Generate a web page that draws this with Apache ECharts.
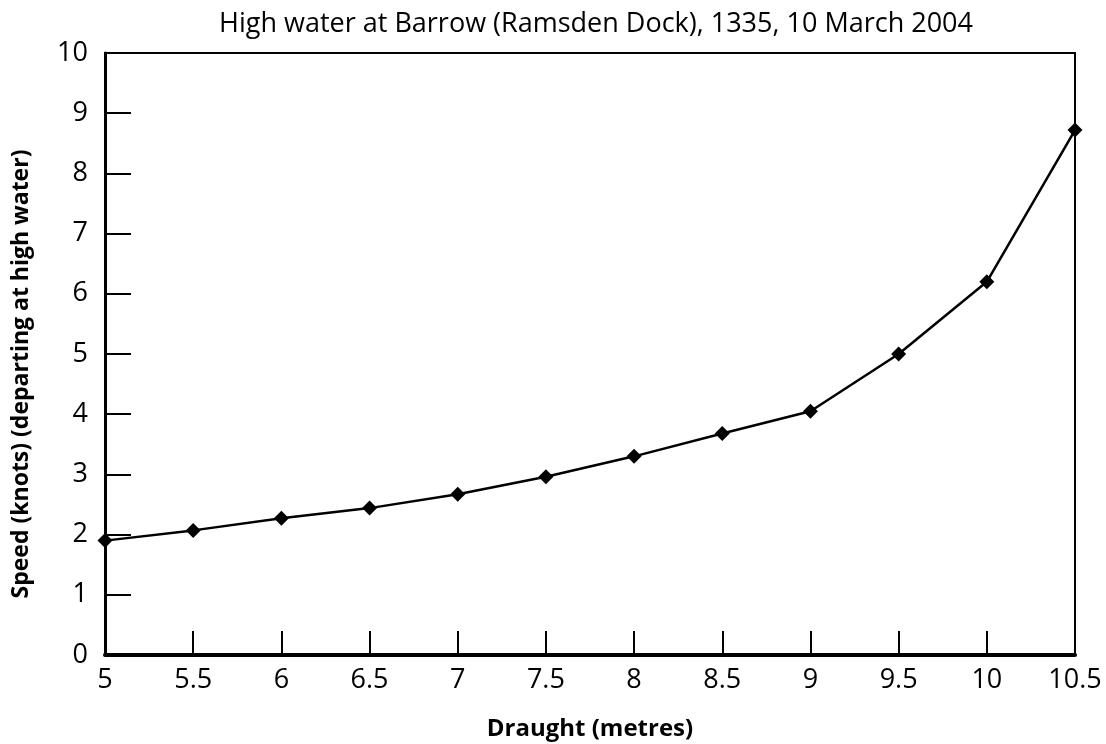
<!DOCTYPE html>
<html><head><meta charset="utf-8">
<script src="https://cdn.jsdelivr.net/npm/echarts@6/dist/echarts.min.js"></script>
<style>html,body{margin:0;padding:0;background:#fff}#c{width:1106px;height:744px}</style>
</head><body><div id="c"></div>
<script>
const draught = [5, 5.5, 6, 6.5, 7, 7.5, 8, 8.5, 9, 9.5, 10, 10.5];
const speed = [1.9, 2.07, 2.27, 2.44, 2.67, 2.96, 3.3, 3.68, 4.05, 5.0, 6.2, 8.72];
const titleText = 'High water at Barrow (Ramsden Dock), 1335, 10 March 2004';
const xName = 'Draught (metres)';
const yName = 'Speed (knots) (departing at high water)';

const font = '"Open Sans", "Noto Sans", sans-serif';
const chart = echarts.init(document.getElementById('c'));
chart.setOption({
  animation: false,
  backgroundColor: '#fff',
  title: { text: titleText, left: 591, textAlign: 'center', top: 6,
    textStyle: { fontFamily: font, fontSize: 27, fontWeight: 'normal', color: '#000' } },
  grid: { left: 105, right: 31, top: 53, bottom: 89, show: true, borderColor: '#000', borderWidth: 2, backgroundColor: 'transparent', outerBoundsMode: 'none', containLabel: false },
  xAxis: {
    type: 'value', min: 5, max: 10.5, interval: 0.5,
    name: xName, nameLocation: 'middle', nameGap: 62,
    nameTextStyle: { fontFamily: font, fontSize: 24, fontWeight: 'bold', color: '#000' },
    axisLine: { lineStyle: { color: '#000', width: 4 } },
    axisTick: { inside: true, length: 24, lineStyle: { color: '#000', width: 2 } },
    axisLabel: { fontFamily: font, fontSize: 27, color: '#000', margin: 12 },
    splitLine: { show: false }
  },
  yAxis: {
    type: 'value', min: 0, max: 10, interval: 1,
    name: yName, nameLocation: 'middle', nameGap: 72,
    nameTextStyle: { fontFamily: font, fontSize: 23, fontWeight: 'bold', color: '#000', padding: [0, 40, 0, 0] },
    axisLine: { show: true, lineStyle: { color: '#000', width: 3 } },
    axisTick: { show: true, inside: true, length: 26, lineStyle: { color: '#000', width: 2 } },
    axisLabel: { fontFamily: font, fontSize: 27, color: '#000', margin: 17 },
    splitLine: { show: false }
  },
  series: [{
    type: 'line',
    data: draught.map((d, i) => [d, speed[i]]),
    symbol: 'diamond', symbolSize: 15,
    itemStyle: { color: '#000' },
    lineStyle: { color: '#000', width: 2.5 },
    clip: false
  }]
});
</script></body></html>
